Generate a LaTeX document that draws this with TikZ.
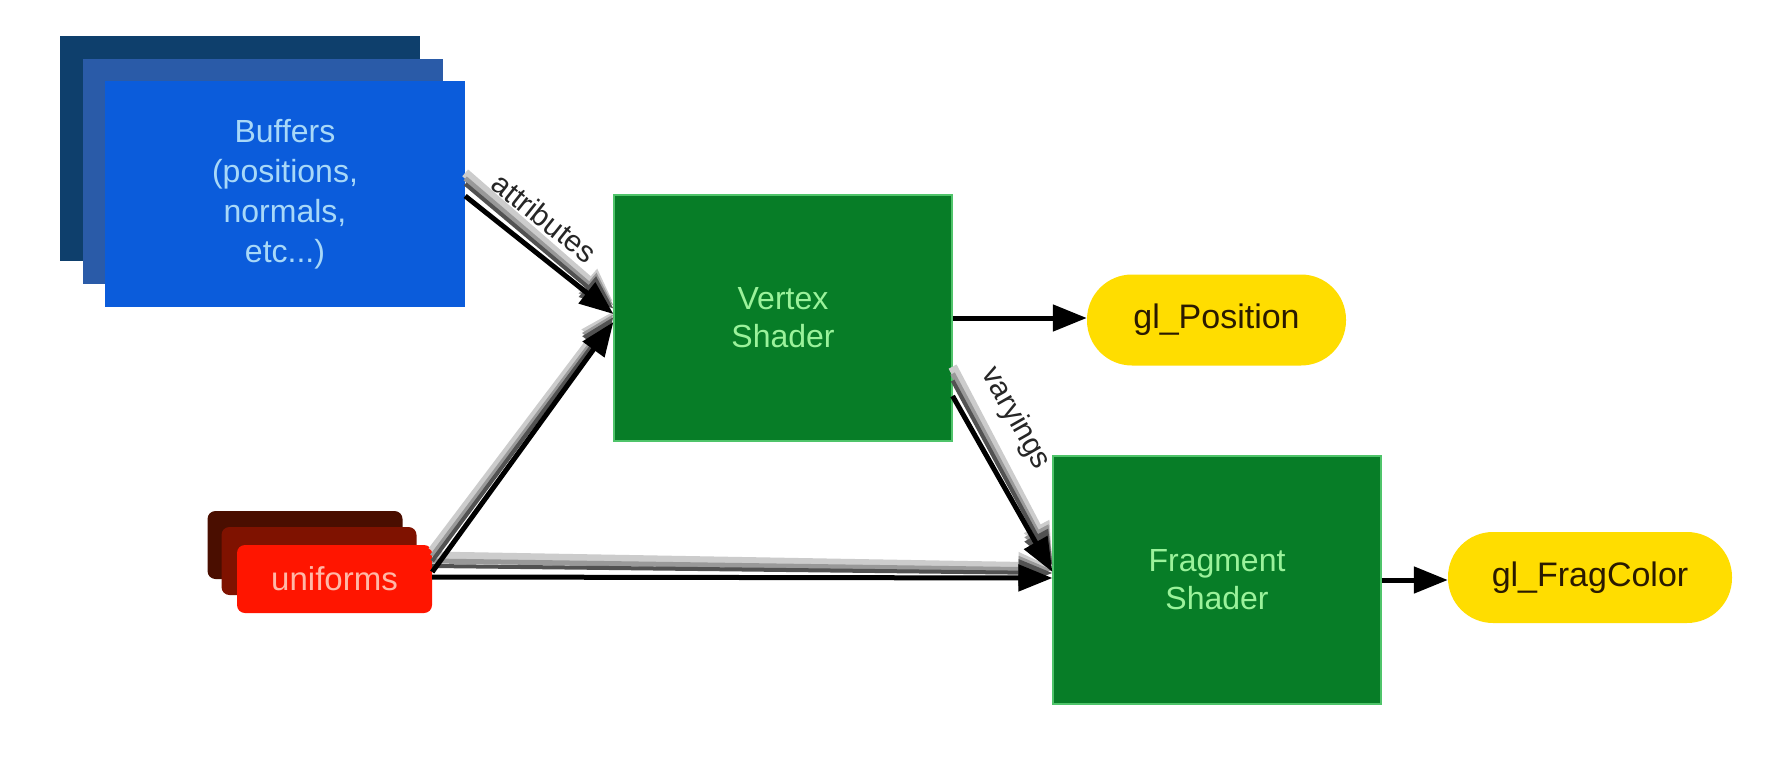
\documentclass[tikz,border=0pt]{standalone}
\usepackage{fontspec}
\setmainfont{Liberation Sans}
\usetikzlibrary{arrows.meta,calc}
\definecolor{bufA}{HTML}{0E3F6C}
\definecolor{bufB}{HTML}{2A5BA8}
\definecolor{bufC}{HTML}{0B5CDB}
\definecolor{bufT}{HTML}{A8D8F8}
\definecolor{shG}{HTML}{077D27}
\definecolor{shE}{HTML}{4FC46A}
\definecolor{shT}{HTML}{9BF29B}
\definecolor{yel}{HTML}{FFDD00}
\definecolor{yelT}{HTML}{2A1A00}
\definecolor{uniA}{HTML}{4A0E00}
\definecolor{uniB}{HTML}{7F1200}
\definecolor{uniC}{HTML}{FF1500}
\definecolor{uniT}{HTML}{FFB8A8}
\tikzset{
  bufbox/.style={rectangle, inner sep=0pt, minimum width=360pt, minimum height=225pt},
  shbox/.style={rectangle, fill=shG, draw=shE, line width=1.2pt, inner sep=0pt, text=shT,
    align=center, font=\fontsize{32}{38}\selectfont},
  outpill/.style={rectangle, rounded corners=45pt, fill=yel, inner sep=0pt, text=yelT,
    minimum height=91pt, font=\fontsize{34}{40}\selectfont},
  unibox/.style={rectangle, rounded corners=8pt, inner sep=0pt, minimum width=195pt, minimum height=68pt},
  headtip/.style={-{Triangle[length=34pt,width=26pt]}},
  plainarrow/.style={headtip, line width=5pt, draw=black},
  pipeblack/.style={headtip, line width=5pt, draw=black},
  pipelbl/.style={sloped, font=\fontsize{30}{34}\selectfont, text=black!85, inner sep=0pt}
}
\newcommand\pipe[3]{%
  \foreach \s/\e/\c/\w in {21/11/black!20/9,16/8/black!40/5,11/5/black!68/4}{%
    \draw[headtip, draw=\c, line width=\w pt] ($(#1)+(0,-#3*\s)$) -- ($(#2)+(0,-#3*\e)$);
  }%
}
\begin{document}
\begin{tikzpicture}[x=1pt,y=-1pt]
\useasboundingbox[fill=white] (0,0) rectangle (1766,762);

% buffers stack
\node[bufbox, fill=bufA] (bufback) at (239.5,148.5) {};
\node[bufbox, fill=bufB] (bufmid) at (262.5,171.5) {};
\node[bufbox, fill=bufC, text=bufT, align=center, font=\fontsize{32}{40}\selectfont] (buf) at (285,194)
  {Buffers\\(positions,\\normals,\\etc...)};

% uniforms stack
\node[unibox, fill=uniA] (uniback) at (305,545) {};
\node[unibox, fill=uniB] (unimid) at (319,561) {};
\node[unibox, fill=uniC, text=uniT, font=\fontsize{33}{38}\selectfont] (uni) at (334.5,579) {uniforms};

% shaders
\node[shbox, minimum width=338pt, minimum height=246pt] (vs) at (783,318) {Vertex\\Shader};
\node[shbox, minimum width=328pt, minimum height=248pt] (fs) at (1217,580) {Fragment\\Shader};

% outputs
\node[outpill, minimum width=259pt] (glp) at (1216.5,320) {gl\_Position};
\node[outpill, minimum width=284pt] (glf) at (1590,577.5) {gl\_FragColor};

% coordinates of the pipe ends
\coordinate (aS) at ($(buf.east)+(0,2)$);
\coordinate (aE) at ($(vs.west)+(0,-4)$);
\coordinate (uS) at ($(uni.east)+(0,-7)$);
\coordinate (uE) at ($(vs.west)+(0,4)$);
\coordinate (hS) at ($(uni.east)+(0,-2)$);
\coordinate (hE) at ($(fs.west)+(0,-2)$);
\coordinate (vS) at ($(vs.east)+(0,78)$);
\coordinate (vE) at ($(fs.west)+(0,-8)$);

% gray layers
\pipe{hS}{hE}{1}
\pipe{uS}{uE}{1}
\pipe{aS}{aE}{1.1}
\pipe{vS}{vE}{1.4}

% black layers
\draw[pipeblack] (hS) -- (hE);
\draw[pipeblack] (uS) -- (uE);
\draw[pipeblack] (aS) -- node[pipelbl, pos=0.4, above=19pt] {attributes} (aE);
\draw[pipeblack] (vS) -- node[pipelbl, pos=0.25, above=27pt] {varyings} (vE);

% plain outputs
\draw[plainarrow] (vs.east) -- (vs.east -| glp.west);
\draw[plainarrow] (fs.east) -- (fs.east -| glf.west);
\end{tikzpicture}
\end{document}
